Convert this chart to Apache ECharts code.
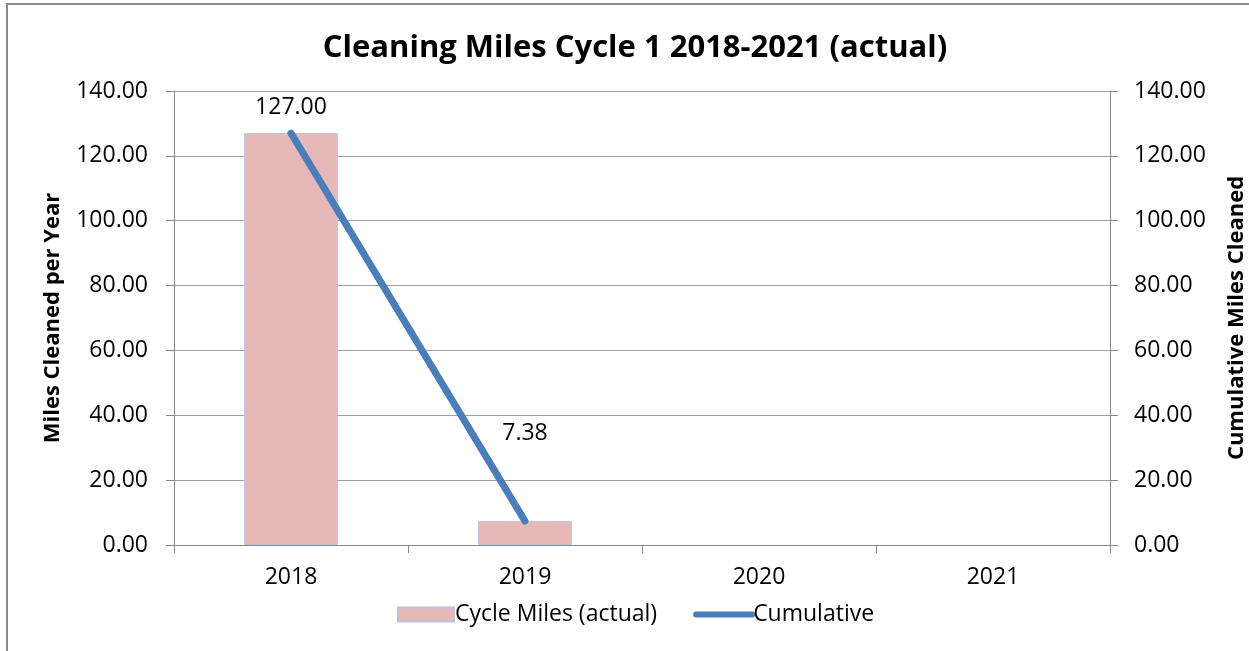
<!DOCTYPE html>
<html>
<head>
<meta charset="utf-8">
<script src="https://cdn.jsdelivr.net/npm/echarts@6/dist/echarts.min.js"></script>
<style>
html,body{margin:0;padding:0;background:#fff;}
#chart{width:1249px;height:651px;}
</style>
</head>
<body>
<div id="chart"></div>
<script>
const categories = ['2018', '2019', '2020', '2021'];
const cycleMiles = [127.00, 7.38, null, null];
const cumulative = [127.00, 7.38, null, null];
const leftTicks = [0, 20, 40, 60, 80, 100, 120, 140];

const FONT = '"Open Sans", "Noto Sans", sans-serif';
const chart = echarts.init(document.getElementById('chart'), null, {renderer: 'canvas'});

const barData = cycleMiles.map((v, i) => {
  if (i === 1) return {value: v, label: {show: true, offset: [0, -62]}};
  if (i === 0) return {value: v, label: {show: true}};
  return v;
});

const axisBase = {
  type: 'value',
  min: leftTicks[0],
  max: leftTicks[leftTicks.length - 1],
  interval: 20,
  axisLine: {show: true, lineStyle: {color: '#888888', width: 1}},
  axisTick: {show: true, length: 8, lineStyle: {color: '#888888'}},
  splitLine: {show: false},
  nameLocation: 'middle',
  nameRotate: 90,
  nameTextStyle: {fontFamily: FONT, fontSize: 22, fontWeight: 'bold', color: '#000'},
  axisLabel: {fontFamily: FONT, fontSize: 23, color: '#000', formatter: v => v.toFixed(2)}
};

chart.setOption({
  animation: false,
  backgroundColor: '#ffffff',
  graphic: [{
    type: 'rect',
    shape: {x: 7, y: 4, width: 1400, height: 800},
    style: {fill: 'none', stroke: '#888888', lineWidth: 2},
    z: -1
  }],
  title: {
    text: 'Cleaning Miles Cycle 1 2018-2021 (actual)',
    left: 630,
    textAlign: 'center',
    top: 28,
    textStyle: {fontFamily: FONT, fontSize: 31, fontWeight: 'bold', color: '#000'}
  },
  legend: {
    left: 392,
    top: 598,
    itemWidth: 56,
    itemHeight: 14,
    itemGap: 36,
    textStyle: {fontFamily: FONT, fontSize: 23, color: '#000', padding: [0, 0, 0, -4]},
    data: [
      {name: 'Cycle Miles (actual)', icon: 'rect'},
      {name: 'Cumulative', itemStyle: {opacity: 0}, lineStyle: {width: 6, cap: 'round', color: '#4a7ebb'}}
    ]
  },
  grid: {left: 174, right: 139, top: 91, bottom: 106, containLabel: false, outerBoundsMode: 'none'},
  xAxis: {
    type: 'category',
    data: categories,
    boundaryGap: true,
    axisLine: {show: true, lineStyle: {color: '#888888'}},
    axisTick: {show: true, length: 8, alignWithLabel: false, lineStyle: {color: '#888888'}},
    axisLabel: {fontFamily: FONT, fontSize: 23, color: '#000', margin: 21}
  },
  yAxis: [
    Object.assign({}, axisBase, {
      position: 'left',
      name: 'Miles Cleaned per Year',
      nameGap: 110,
      splitLine: {show: true, lineStyle: {color: '#a0a0a0', width: 1}},
      axisLabel: Object.assign({}, axisBase.axisLabel, {margin: 26})
    }),
    Object.assign({}, axisBase, {
      position: 'right',
      name: 'Cumulative Miles Cleaned',
      nameGap: 116,
      axisLabel: Object.assign({}, axisBase.axisLabel, {margin: 24})
    })
  ],
  series: [
    {
      name: 'Cycle Miles (actual)',
      type: 'bar',
      yAxisIndex: 0,
      data: barData,
      barWidth: '40%',
      itemStyle: {color: '#e6b9b8', borderColor: '#b9c1dc', borderWidth: 1},
      label: {
        show: false,
        position: 'top',
        distance: 14,
        fontFamily: FONT,
        fontSize: 23,
        color: '#000',
        formatter: p => p.value.toFixed(2)
      },
      z: 2
    },
    {
      name: 'Cumulative',
      type: 'line',
      yAxisIndex: 1,
      data: cumulative,
      showSymbol: false,
      symbol: 'none',
      lineStyle: {color: '#4a7ebb', width: 7, cap: 'round'},
      itemStyle: {color: '#4a7ebb'},
      z: 3
    }
  ]
});
</script>
</body>
</html>
